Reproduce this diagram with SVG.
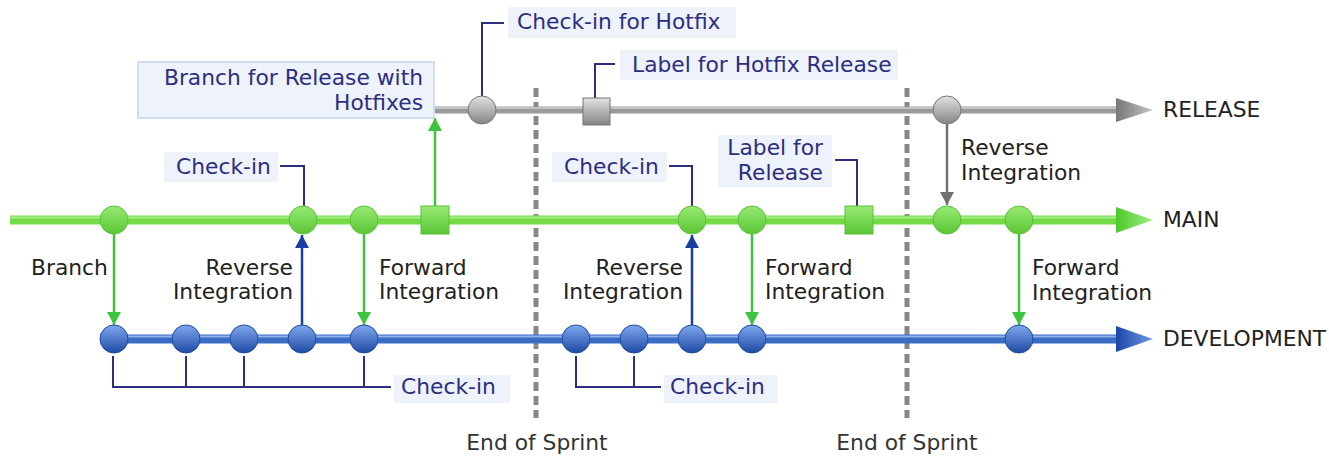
<svg xmlns="http://www.w3.org/2000/svg" width="1329" height="456" viewBox="0 0 1329 456">
<style>
text{font-family:"DejaVu Sans",Verdana,sans-serif;font-size:21.8px}
.lbl{fill:#2e2e80}
.dk{fill:#222}
.sp{fill:#333}
.box{fill:#edf2fb}
.lead{fill:none;stroke:#2e2e7e;stroke-width:2}
.dash{stroke:#878787;stroke-width:5;stroke-dasharray:9 5}
.ga{stroke:#3cc43c;stroke-width:2.5;fill:none;marker-end:url(#ag)}
.ba{stroke:#1b3f9e;stroke-width:2.5;fill:none;marker-end:url(#ab)}
.ya{stroke:#707070;stroke-width:2.5;fill:none;marker-end:url(#ay)}
.gn{fill:url(#gg);stroke:#5cc23a;stroke-width:1}
.bn{fill:url(#bg);stroke:#1f4aa0;stroke-width:1}
.yn{fill:url(#yg);stroke:#777;stroke-width:1}
</style>
<defs>
<linearGradient id="gg" x1="0" y1="0" x2="0" y2="1"><stop offset="0" stop-color="#97ea72"/><stop offset="1" stop-color="#5bc535"/></linearGradient>
<linearGradient id="bg" x1="0" y1="0" x2="0" y2="1"><stop offset="0" stop-color="#80a8ee"/><stop offset="1" stop-color="#1d4aa4"/></linearGradient>
<linearGradient id="yg" x1="0" y1="0" x2="0" y2="1"><stop offset="0" stop-color="#e2e2e2"/><stop offset="1" stop-color="#848484"/></linearGradient>
<linearGradient id="gh" x1="0" y1="0" x2="1" y2="0"><stop offset="0" stop-color="#4cc82c"/><stop offset="1" stop-color="#a3ee84"/></linearGradient>
<linearGradient id="bh" x1="0" y1="0" x2="1" y2="0"><stop offset="0" stop-color="#1a46a6"/><stop offset="1" stop-color="#6f9ae4"/></linearGradient>
<linearGradient id="yh" x1="0" y1="0" x2="1" y2="0"><stop offset="0" stop-color="#777"/><stop offset="1" stop-color="#c4c4c4"/></linearGradient>
<marker id="ag" viewBox="0 0 13 14" refX="13" refY="7" markerWidth="13" markerHeight="14" markerUnits="userSpaceOnUse" orient="auto"><path d="M0,0 L13,7 L0,14 z" fill="#3cc43c"/></marker>
<marker id="ab" viewBox="0 0 13 14" refX="13" refY="7" markerWidth="13" markerHeight="14" markerUnits="userSpaceOnUse" orient="auto"><path d="M0,0 L13,7 L0,14 z" fill="#1b3f9e"/></marker>
<marker id="ay" viewBox="0 0 13 14" refX="13" refY="7" markerWidth="13" markerHeight="14" markerUnits="userSpaceOnUse" orient="auto"><path d="M0,0 L13,7 L0,14 z" fill="#707070"/></marker>
</defs>

<!-- sprint boundaries -->
<g id="sprints">
<line class="dash" x1="536" y1="88" x2="536" y2="418"/>
<line class="dash" x1="907" y1="88" x2="907" y2="418"/>
<text class="sp" x="537" y="450" text-anchor="middle">End of Sprint</text>
<text class="sp" x="907" y="450" text-anchor="middle">End of Sprint</text>
</g>

<!-- branch lines -->
<g id="release-line">
<line x1="435" y1="110" x2="1118" y2="110" stroke="#9a9a9a" stroke-width="7"/>
<line x1="435" y1="108" x2="1118" y2="108" stroke="#cfcfcf" stroke-width="1.5"/>
<polygon points="1116,98 1153,110 1116,122" fill="url(#yh)"/>
<text class="dk" x="1163" y="117">RELEASE</text>
</g>
<g id="main-line">
<line x1="10" y1="220" x2="1118" y2="220" stroke="#74da48" stroke-width="9"/>
<line x1="10" y1="217.5" x2="1118" y2="217.5" stroke="#a6ee88" stroke-width="2"/>
<polygon points="1116,207 1153,220 1116,233" fill="url(#gh)"/>
<text class="dk" x="1163" y="227">MAIN</text>
</g>
<g id="dev-line">
<line x1="114" y1="339" x2="1118" y2="339" stroke="#3a6cc4" stroke-width="9"/>
<line x1="114" y1="336.5" x2="1118" y2="336.5" stroke="#8db2ec" stroke-width="2"/>
<polygon points="1116,326 1153,339 1116,352" fill="url(#bh)"/>
<text class="dk" x="1163" y="346">DEVELOPMENT</text>
</g>

<!-- connectors -->
<g id="connectors">
<line class="ga" x1="435" y1="206" x2="435" y2="118"/>
<line class="ga" x1="114" y1="233" x2="114" y2="325"/>
<line class="ga" x1="364" y1="233" x2="364" y2="325"/>
<line class="ga" x1="752" y1="233" x2="752" y2="325"/>
<line class="ga" x1="1019" y1="233" x2="1019" y2="325"/>
<line class="ba" x1="302" y1="325" x2="302" y2="235"/>
<line class="ba" x1="692" y1="325" x2="692" y2="235"/>
<line class="ya" x1="947" y1="124" x2="947" y2="205"/>
</g>

<!-- leaders -->
<g id="leaders">
<polyline class="lead" points="482,97 482,23 504,23"/>
<polyline class="lead" points="595,98 595,64 615,64"/>
<polyline class="lead" points="304,206 304,166 280,166"/>
<polyline class="lead" points="692,206 692,166 669,166"/>
<polyline class="lead" points="857,206 857,160 835,160"/>
<polyline class="lead" points="113,356 113,387 391,387"/>
<line class="lead" x1="186" y1="356" x2="186" y2="387"/>
<line class="lead" x1="244" y1="356" x2="244" y2="387"/>
<line class="lead" x1="364" y1="356" x2="364" y2="387"/>
<polyline class="lead" points="576,356 576,387 661,387"/>
<line class="lead" x1="634" y1="356" x2="634" y2="387"/>
</g>

<!-- nodes -->
<g id="release-nodes">
<circle class="yn" cx="482" cy="110" r="14"/>
<rect class="yn" x="583" y="98" width="27" height="27"/>
<circle class="yn" cx="947" cy="110" r="14"/>
</g>
<g id="main-nodes">
<circle class="gn" cx="114" cy="220" r="14"/>
<circle class="gn" cx="303" cy="220" r="14"/>
<circle class="gn" cx="364" cy="220" r="14"/>
<rect class="gn" x="421" y="206" width="28" height="28"/>
<circle class="gn" cx="692" cy="220" r="14"/>
<circle class="gn" cx="752" cy="220" r="14"/>
<rect class="gn" x="845" y="206" width="28" height="28"/>
<circle class="gn" cx="947" cy="220" r="14"/>
<circle class="gn" cx="1019" cy="220" r="14"/>
</g>
<g id="dev-nodes">
<circle class="bn" cx="114" cy="339" r="14"/>
<circle class="bn" cx="186" cy="339" r="14"/>
<circle class="bn" cx="244" cy="339" r="14"/>
<circle class="bn" cx="302" cy="339" r="14"/>
<circle class="bn" cx="364" cy="339" r="14"/>
<circle class="bn" cx="576" cy="339" r="14"/>
<circle class="bn" cx="634" cy="339" r="14"/>
<circle class="bn" cx="692" cy="339" r="14"/>
<circle class="bn" cx="752" cy="339" r="14"/>
<circle class="bn" cx="1019" cy="339" r="14"/>
</g>

<!-- callout labels -->
<g id="label-hotfix-checkin">
<rect class="box" x="508" y="7" width="228" height="31"/>
<text class="lbl" x="517" y="29">Check-in for Hotfix</text>
</g>
<g id="label-branch-release">
<rect class="box" x="138" y="62" width="296" height="56" stroke="#c6d4f0" stroke-width="1.5"/>
<text class="lbl" x="423" y="85" text-anchor="end">Branch for Release with</text>
<text class="lbl" x="423" y="110" text-anchor="end">Hotfixes</text>
</g>
<g id="label-hotfix-release">
<rect class="box" x="620" y="50" width="278" height="30"/>
<text class="lbl" x="632" y="72">Label for Hotfix Release</text>
</g>
<g id="label-checkin-1">
<rect class="box" x="164" y="152" width="114" height="30"/>
<text class="lbl" x="176" y="174">Check-in</text>
</g>
<g id="label-checkin-2">
<rect class="box" x="552" y="152" width="115" height="30"/>
<text class="lbl" x="564" y="174">Check-in</text>
</g>
<g id="label-release">
<rect class="box" x="718" y="135" width="114" height="52"/>
<text class="lbl" x="823" y="155" text-anchor="end">Label for</text>
<text class="lbl" x="823" y="180" text-anchor="end">Release</text>
</g>
<g id="label-checkin-3">
<rect class="box" x="394" y="375" width="116" height="28"/>
<text class="lbl" x="401" y="394">Check-in</text>
</g>
<g id="label-checkin-4">
<rect class="box" x="664" y="375" width="114" height="28"/>
<text class="lbl" x="670" y="394">Check-in</text>
</g>

<!-- connector labels -->
<g id="connector-labels">
<text class="dk" x="31" y="275">Branch</text>
<text class="dk" x="293" y="275" text-anchor="end">Reverse</text>
<text class="dk" x="293" y="299" text-anchor="end">Integration</text>
<text class="dk" x="379" y="275">Forward</text>
<text class="dk" x="379" y="299">Integration</text>
<text class="dk" x="683" y="275" text-anchor="end">Reverse</text>
<text class="dk" x="683" y="299" text-anchor="end">Integration</text>
<text class="dk" x="765" y="275">Forward</text>
<text class="dk" x="765" y="299">Integration</text>
<text class="dk" x="961" y="155">Reverse</text>
<text class="dk" x="961" y="180">Integration</text>
<text class="dk" x="1032" y="275">Forward</text>
<text class="dk" x="1032" y="300">Integration</text>
</g>
</svg>
